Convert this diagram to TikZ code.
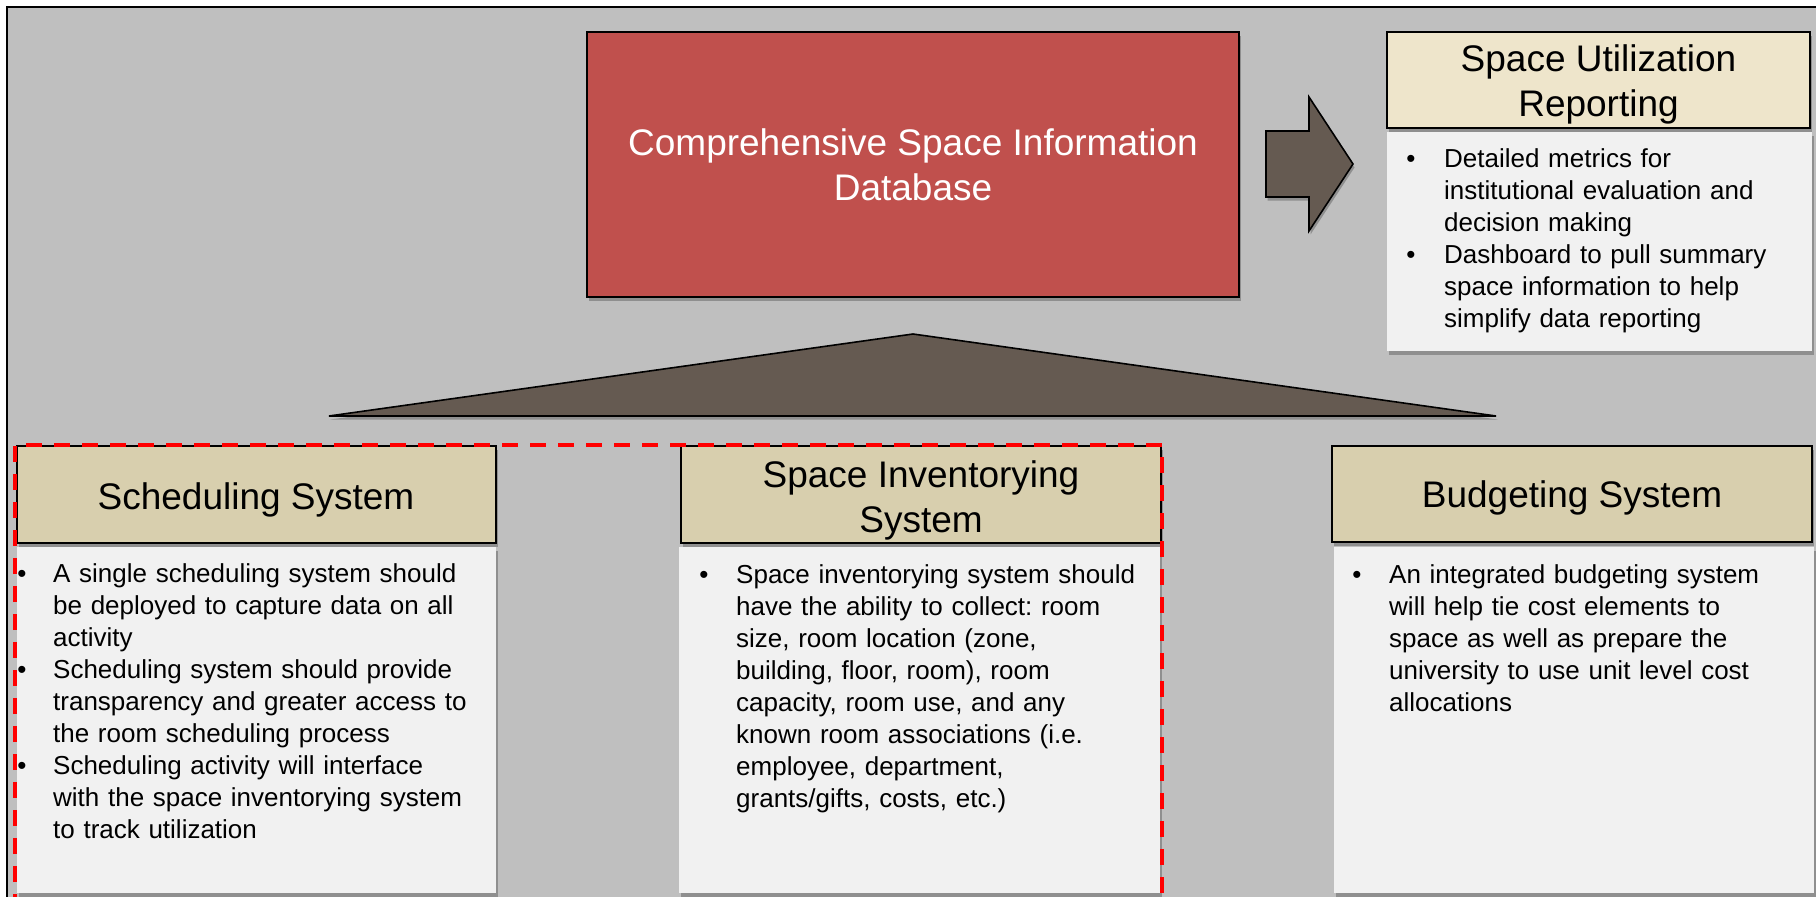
\documentclass[tikz,border=0pt]{standalone}
\usepackage{fontspec}
\setmainfont{Liberation Sans}
\usetikzlibrary{shadows}
\definecolor{bg}{RGB}{191,191,191}
\definecolor{redbox}{RGB}{192,80,77}
\definecolor{taupe}{RGB}{101,90,81}
\definecolor{cream}{RGB}{238,229,203}
\definecolor{khaki}{RGB}{216,207,174}
\definecolor{bodygray}{RGB}{241,241,241}
\frenchspacing
\begin{document}
\begin{tikzpicture}[x=1pt,y=-1pt,
  shadowed/.style={drop shadow={shadow xshift=1.5pt,shadow yshift=-3.5pt,opacity=0.25,fill=black}},
  hdrbox/.style={draw=black,line width=2pt,fill=khaki,shadowed},
  bodybox/.style={fill=bodygray,shadowed},
  solid shape/.style={draw=black,line width=1.6pt,fill=taupe,line join=miter,shadowed},
  headtxt/.style={inner sep=0pt,font=\fontsize{37}{45}\selectfont,text=black},
  bodytxt/.style={inner sep=0pt,font=\fontsize{26}{32}\selectfont,text=black},
  paratxt/.style={bodytxt,anchor=base west,text width=470pt,align=left},
  bul/.style={bodytxt,anchor=base}
]
\useasboundingbox (0,0) rectangle (1816,897);
\clip (0,0) rectangle (1816,897);
% frame and background
\path[fill=bg,draw=black,line width=2pt] (7,7) rectangle (1840,920);

% central database box
\path[fill=redbox,draw=black,line width=2pt,shadowed] (587,32) rectangle (1239,297);
\node[headtxt,text=white,anchor=base] (db1) at (913,155) {Comprehensive Space Information};
\node[headtxt,text=white,anchor=base] (db2) at (913,200) {Database};

% right arrow
\path[solid shape] (1266,131) -- (1309,131) -- (1309,97) -- (1353,164) -- (1309,231) -- (1309,197) -- (1266,197) -- cycle;

% space utilization reporting
\path[bodybox] (1387,132) rectangle (1812,351);
\path[draw=black,line width=2pt,fill=cream,shadowed] (1387,32) rectangle (1810,128);
\node[headtxt,anchor=base] (su1) at (1598.5,71) {Space Utilization};
\node[headtxt,anchor=base] (su2) at (1598.5,116) {Reporting};
\node[bul] (sub1) at (1411,167) {\textbullet};
\node[paratxt,text width=360pt] (sup1) at (1444,167) {Detailed metrics for\\institutional evaluation and\\decision making};
\node[bul] (sub2) at (1411,263) {\textbullet};
\node[paratxt,text width=360pt] (sup2) at (1444,263) {Dashboard to pull summary\\space information to help\\simplify data reporting};

% triangle
\path[solid shape] (329,416) -- (913,334) -- (1496,416) -- cycle;

% scheduling system
\path[bodybox] (17,547) rectangle (496,893);
\path[hdrbox] (17,446) rectangle (496,543);
\node[headtxt,anchor=base] (sch) at (256,509) {Scheduling System};
\node[bul] (schb1) at (22,582) {\textbullet};
\node[paratxt,text width=440pt] (schp1) at (53,582) {A single scheduling system should\\be deployed to capture data on all\\activity};
\node[bul] (schb2) at (22,678) {\textbullet};
\node[paratxt,text width=440pt] (schp2) at (53,678) {Scheduling system should provide\\transparency and greater access to\\the room scheduling process};
\node[bul] (schb3) at (22,774) {\textbullet};
\node[paratxt,text width=440pt] (schp3) at (53,774) {Scheduling activity will interface\\with the space inventorying system\\to track utilization};

% space inventorying system
\path[bodybox] (679,547) rectangle (1160,893);
\path[hdrbox] (681,446) rectangle (1161,543);
\node[headtxt,anchor=base] (inv1) at (921,487) {Space Inventorying};
\node[headtxt,anchor=base] (inv2) at (921,532) {System};
\node[bul] (invb1) at (704,583) {\textbullet};
\node[paratxt,text width=420pt] (invp1) at (736,583) {Space inventorying system should\\have the ability to collect: room\\size, room location (zone,\\building, floor, room), room\\capacity, room use, and any\\known room associations (i.e.\\employee, department,\\grants/gifts, costs, etc.)};

% budgeting system
\path[bodybox] (1334,547) rectangle (1814,893);
\path[hdrbox] (1332,446) rectangle (1812,542);
\node[headtxt,anchor=base] (bud) at (1572,507) {Budgeting System};
\node[bul] (budb1) at (1357,583) {\textbullet};
\node[paratxt,text width=420pt] (budp1) at (1389,583) {An integrated budgeting system\\will help tie cost elements to\\space as well as prepare the\\university to use unit level cost\\allocations};

% red dashed outline
\draw[red,line width=4pt,dash pattern=on 16pt off 12pt] (15,910) -- (15,445) -- (1162,445) -- (1162,910);
\end{tikzpicture}
\end{document}
